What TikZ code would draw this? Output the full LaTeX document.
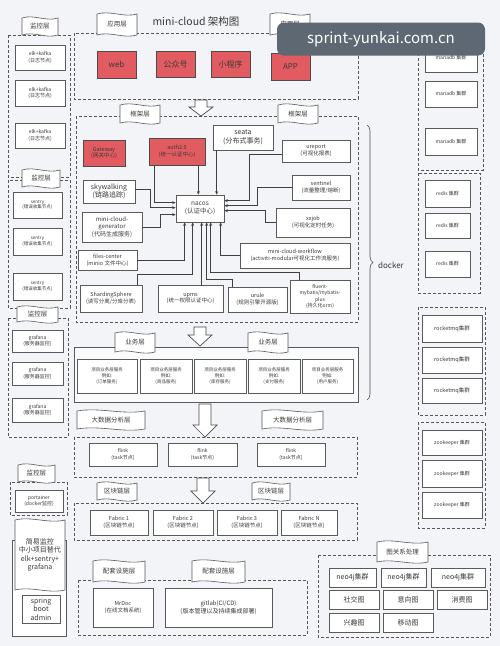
\documentclass[tikz,border=0pt]{standalone}
\usepackage{fontspec}
\setmainfont{Noto Sans CJK SC}
\usetikzlibrary{arrows.meta,decorations.pathreplacing}
\definecolor{bgc}{HTML}{F2F4F7}
\definecolor{boxc}{HTML}{5A5A5A}
\definecolor{dashc}{HTML}{555555}
\definecolor{redc}{HTML}{E25B60}
\definecolor{txtc}{HTML}{3A3A3A}
\definecolor{wmc}{HTML}{5E6873}
\newcommand\bx[7][]{\node[box,#1,minimum width={#5-#3},minimum height={#6-#4}] (#2) at ({(#3+#5)/2},{(#4+#6)/2}) {#7};}
\newcommand\flag[7][]{%
  \draw[flagline] (#3,#4) .. controls ({#3+(#5-#3)/3},{#4-4}) and ({#3+2*(#5-#3)/3},{#4+4}) .. (#5,#4) -- (#5,#6) .. controls ({#3+2*(#5-#3)/3},{#6+4}) and ({#3+(#5-#3)/3},{#6-4}) .. (#3,#6) -- cycle;
  \node[flagtext,#1] (#2) at ({(#3+#5)/2},{(#4+#6)/2}) {#7};}
\newcommand\bigarr[4]{\draw[bigarrow] ({#1-6},#2) -- ({#1+6},#2) -- ({#1+6},#3) -- ({#1+12},#3) -- (#1,#4) -- ({#1-12},#3) -- ({#1-6},#3) -- cycle;}
\begin{document}
\begin{tikzpicture}[x=1pt,y=-1pt,
  f45/.style={font=\fontsize{4.5}{5.6}\selectfont},
  f5/.style={font=\fontsize{5}{6.2}\selectfont},
  f55/.style={font=\fontsize{5.5}{6.8}\selectfont},
  f6/.style={font=\fontsize{6}{7.3}\selectfont},
  f65/.style={font=\fontsize{6.5}{7.8}\selectfont},
  f7/.style={font=\fontsize{7}{8.6}\selectfont},
  f8/.style={font=\fontsize{8}{9.6}\selectfont},
  box/.style={draw=boxc,fill=white,line width=0.7pt,inner sep=0.5pt,align=center,text=txtc,f5},
  redbox/.style={fill=redc,draw=black!70},
  grp/.style={draw=dashc,line width=0.7pt,dash pattern=on 3pt off 2pt},
  solidgrp/.style={draw=boxc,line width=0.7pt},
  flagline/.style={draw=black!65,fill=white,line width=0.6pt},
  flagtext/.style={inner sep=0pt,text=txtc,align=center,f65},
  con/.style={draw=black!75,line width=0.6pt,-{Stealth[length=3.5pt,width=3pt]}},
  bigarrow/.style={draw=black!70,fill=white,line width=0.7pt,line join=miter},
]
\fill[bgc] (0,0) rectangle (500,646);
\useasboundingbox (0,0) rectangle (500,646);

% ---------- group frames ----------
\draw[grp] (74,33) rectangle (358,99);
\draw[grp] (76,116) rectangle (358,322);
\draw[solidgrp,fill=white!60!bgc] (74,347) rectangle (358,402);
\draw[grp] (74,437) rectangle (357,477);
\draw[grp] (74,503) rectangle (357,540);
\draw[grp] (78,580) rectangle (307,635);
\draw[grp] (318,555) rectangle (490,637);
% left
\draw[grp] (8,35) rectangle (70,177);
\draw[grp] (8,180) rectangle (70,308);
\draw[grp] (8,318) rectangle (68,437);
\draw[grp] (10,482) rectangle (67,515);
\draw[solidgrp,fill=white] (12,540) rectangle (66,636);
% right
\draw[grp] (418,33) rectangle (483,170);
\draw[grp] (418,173) rectangle (480,293);
\draw[grp] (418,307) rectangle (485,415);
\draw[grp] (418,422) rectangle (485,528);

% ---------- title ----------
\node[text=txtc,font=\fontsize{10.5}{12}\selectfont] (title) at (196,22) {mini-cloud 架构图};

% ---------- application layer ----------
\bx[redbox,f8]{web}{97}{51}{136}{78}{web}
\bx[redbox,f8]{gzh}{156}{51}{195}{77}{公众号}
\bx[redbox,f8]{xcx}{211}{51}{250}{77}{小程序}
\bx[redbox,f8]{app}{271}{53}{310}{80}{APP}

% ---------- framework layer ----------
\bx[redbox,f55]{gw}{83}{140}{125}{166}{Gateway\\(网关中心)}
\bx[redbox,f55]{auth}{149}{138}{205}{165}{auth2.0\\(统一认证中心)}
\bx[f7]{seata}{213}{125}{273}{150}{seata\\(分布式事务)}
\bx[f55]{ureport}{282}{140}{350}{162}{ureport\\(可视化报表)}
\bx[f7]{sky}{83}{180}{135}{203}{skywalking\\(链路追踪)}
\bx[f65]{nacos}{176}{195}{224}{222}{nacos\\(认证中心)}
\bx[f55]{sentinel}{292}{175}{350}{200}{sentinel\\(流量整理/熔断)}
\bx[f6]{gen}{82}{212}{142}{242}{mini-cloud-\\generator\\(代码生成服务)}
\bx[f55]{xxjob}{276}{208}{350}{237}{xxjob\\(可视化定时任务)}
\bx[f55]{files}{78}{250}{137}{270}{files-center\\(minio 文件中心)}
\bx[f55]{workflow}{240}{243}{350}{268}{mini-cloud-workflow\\(activiti-modular可视化工作流服务)}
\bx[f55]{shard}{80}{285}{142}{312}{ShardingSphere\\(读写分离/分库分表)}
\bx[f55]{upms}{158}{285}{223}{312}{upms\\(统一权限认证中心)}
\bx[f55]{urule}{228}{287}{287}{312}{urule\\(规则引擎开源版)}
\bx[f5]{fluent}{290}{280}{350}{313}{fluent-\\mybatis/mybatis-\\plus\\(持久化orm)}

% connectors to nacos
\draw[con] ([xshift=6pt]auth.south west) |- ([yshift=-8pt]nacos.north west);
\draw[con] ([xshift=-7pt]auth.south east) -- ([xshift=-7pt]auth.south east |- nacos.north);
\draw[con] ([xshift=4pt]seata.south west) -- ([xshift=4pt]seata.south west |- nacos.north);
\draw[con] ([yshift=-10pt]sky.north east) -- ++(15,0) |- ([yshift=-13pt]nacos.north west);
\draw[con] ([yshift=-16pt]gen.north east) -- ++(18,0) |- ([yshift=-20pt]nacos.north west);
\draw[con] (files.east) -| ([xshift=9pt]nacos.south west);
\draw[con] ([xshift=-5pt]shard.north east) -- ++(0,-10) -| ([xshift=17pt]nacos.south west);
\draw[con] ([xshift=44pt]upms.north west) -- ([xshift=26pt]nacos.south west);
\draw[con] ([xshift=5pt]urule.north west) -- ++(0,-7) -| ([xshift=31pt]nacos.south west);
\draw[con] ([xshift=10pt]fluent.north west) -- ++(0,-7) -| ([xshift=35pt]nacos.south west);
\draw[con] (workflow.west) -| ([xshift=45pt]nacos.south west);
\draw[con] ([yshift=-15pt]ureport.north west) -- ++(-32,0) |- ([yshift=-6pt]nacos.north east);
\draw[con] (sentinel.west) -- ++(-34,0) |- ([yshift=-11pt]nacos.north east);
\draw[con] (xxjob.west) -- ++(-10,0) |- ([yshift=-16pt]nacos.north east);

% docker brace
\draw[black!70,line width=0.6pt,decorate,decoration={brace,amplitude=6pt}] (367,125) -- (367,400);
\node[text=txtc,f8] (docker) at (391,265) {docker};

% ---------- business layer ----------
\bx[f45]{b1}{77}{359}{137}{393}{项目业务层服务\\例如:\\(订单服务)}
\bx[f45]{b2}{140}{359}{192}{393}{项目业务层服务\\例如:\\(商品服务)}
\bx[f45]{b3}{194}{359}{246}{393}{项目业务层服务\\例如:\\(库存服务)}
\bx[f45]{b4}{248}{359}{300}{393}{项目业务层服务\\例如:\\(支付服务)}
\bx[f45]{b5}{302}{359}{353}{393}{项目业务层服务\\例如:\\(用户服务)}

% ---------- big data ----------
\bx[f5]{fl1}{89}{443}{157}{466}{flink\\(task节点)}
\bx[f5]{fl2}{168}{443}{237}{466}{flink\\(task节点)}
\bx[f5]{fl3}{257}{443}{325}{466}{flink\\(task节点)}

% ---------- blockchain ----------
\bx[f55]{fa1}{90}{510}{148}{535}{Fabric 1\\(区块链节点)}
\bx[f55]{fa2}{153}{510}{213}{535}{Fabric 2\\(区块链节点)}
\bx[f55]{fa3}{217}{510}{277}{535}{Fabric 3\\(区块链节点)}
\bx[f55]{faN}{281}{510}{337}{535}{Fabric N\\(区块链节点)}

% ---------- support ----------
\bx[f55]{mrdoc}{93}{588}{153}{627}{\textit{MrDoc}\\(在线文档系统)}
\bx[f6]{gitlab}{165}{588}{272}{627}{gitlab(CI/CD)\\(版本管理以及持续集成部署)}

% ---------- graph ----------
\bx[f7]{n1}{329}{568}{376}{587}{neo4j集群}
\bx[f7]{n2}{381}{568}{426}{587}{neo4j集群}
\bx[f7]{n3}{431}{568}{485}{587}{neo4j集群}
\bx[f7]{g1}{329}{590}{379}{609}{社交图}
\bx[f7]{g2}{383}{590}{433}{609}{意向图}
\bx[f7]{g3}{437}{590}{487}{609}{消费图}
\bx[f7]{g4}{329}{613}{379}{632}{兴趣图}
\bx[f7]{g5}{383}{613}{433}{632}{移动图}

% ---------- left column ----------
\bx{elk1}{15}{45}{65}{70}{elk+kafka\\(日志节点)}
\bx{elk2}{15}{80}{65}{106}{elk+kafka\\(日志节点)}
\bx{elk3}{15}{123}{65}{148}{elk+kafka\\(日志节点)}
\bx[f45]{se1}{13}{192}{62}{218}{sentry\\(错误收集节点)}
\bx[f45]{se2}{13}{228}{62}{255}{sentry\\(错误收集节点)}
\bx[f45]{se3}{13}{273}{62}{300}{sentry\\(错误收集节点)}
\bx{gr1}{12}{330}{63}{352}{grafana\\(服务器监控)}
\bx{gr2}{12}{362}{63}{385}{grafana\\(服务器监控)}
\bx{gr3}{12}{398}{63}{422}{grafana\\(服务器监控)}
\bx{port}{15}{490}{63}{512}{portainer\\(docker监控)}
\bx[f7]{sba}{22}{595}{60}{623}{spring\\boot\\admin}

% ---------- right column ----------
\bx[f5]{m1}{425}{43}{477}{72}{mariadb 集群}
\bx[f5]{m2}{425}{81}{477}{107}{mariadb 集群}
\bx[f5]{m3}{425}{128}{477}{155}{mariadb 集群}
\bx[f5]{r1}{425}{180}{470}{207}{redis 集群}
\bx[f5]{r2}{425}{213}{470}{238}{redis 集群}
\bx[f5]{r3}{425}{251}{470}{277}{redis 集群}
\bx[f55]{q1}{422}{315}{482}{342}{rocketmq集群}
\bx[f55]{q2}{422}{347}{482}{373}{rocketmq集群}
\bx[f55]{q3}{422}{378}{482}{403}{rocketmq集群}
\bx[f5]{z1}{422}{430}{482}{455}{zookeeper 集群}
\bx[f5]{z2}{422}{460}{482}{487}{zookeeper 集群}
\bx[f5]{z3}{422}{492}{482}{518}{zookeeper 集群}

% ---------- big arrows ----------
\bigarr{201}{100}{107}{116}
\bigarr{200}{327}{335}{346}
\bigarr{205}{404}{425}{437}
\bigarr{203}{478}{491}{503}

% ---------- banners ----------
\flag{fa}{97}{14}{137}{35}{应用层}
\flag{fb}{270}{14}{310}{35}{应用层}
\flag{fc}{120}{105}{160}{123}{框架层}
\flag{fd}{278}{105}{318}{123}{框架层}
\flag{fe}{115}{333}{155}{352}{业务层}
\flag{ff}{248}{333}{288}{352}{业务层}
\flag{fg}{77}{411}{145}{429}{大数据分析层}
\flag{fh}{262}{411}{323}{429}{大数据分析层}
\flag{fi}{97}{483}{137}{500}{区块链层}
\flag{fj}{252}{483}{290}{500}{区块链层}
\flag{fk}{93}{561}{145}{582}{配套设施层}
\flag{fl}{192}{561}{245}{582}{配套设施层}
\flag{fm}{377}{542}{428}{562}{图关系处理}
\flag{l1}{22}{18}{58}{35}{监控层}
\flag{l2}{22}{170}{60}{187}{监控层}
\flag{l3}{17}{307}{58}{322}{监控层}
\flag{l4}{18}{465}{55}{482}{监控层}
\flag[f7]{simple}{15}{520}{65}{590}{简易监控\\中小项目替代\\elk+sentry+\\grafana}

% ---------- watermark ----------
\node[fill=wmc,rounded corners=7pt,text=white,minimum width=208,minimum height=33,inner sep=0pt,font=\fontsize{15}{17}\selectfont] (wm) at (381,39) {sprint-yunkai.com.cn};
\end{tikzpicture}
\end{document}
